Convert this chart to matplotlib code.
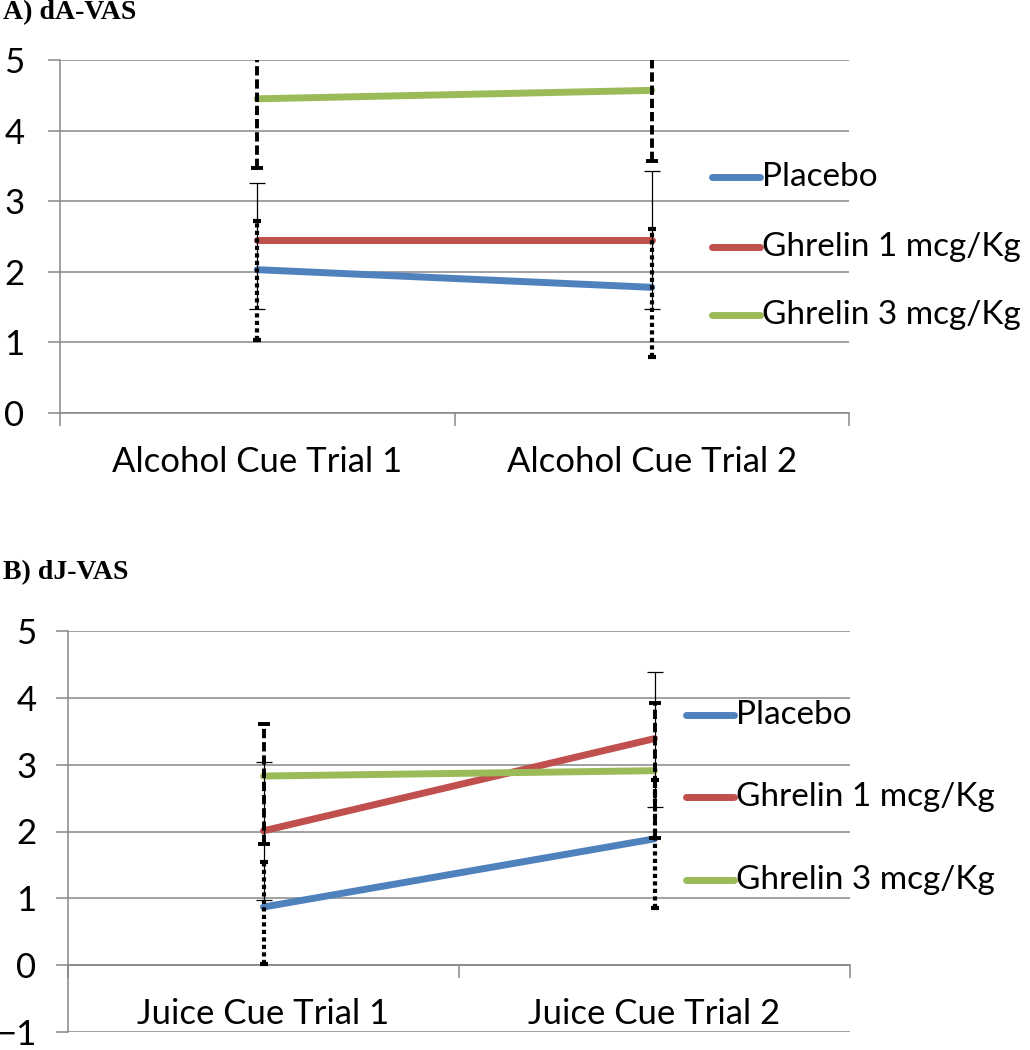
import matplotlib
matplotlib.use("Agg")
import matplotlib.pyplot as plt
from matplotlib.lines import Line2D

# series names and colours (Excel 2007 palette)
conditions = ["Placebo", "Ghrelin 1 mcg/Kg", "Ghrelin 3 mcg/Kg"]
colors = ["#4F81BD", "#C0504D", "#9BBB59"]

# A) dA-VAS
a_cats = ["Alcohol Cue Trial 1", "Alcohol Cue Trial 2"]
a_placebo = [2.03, 1.78]
a_ghr1 = [2.45, 2.45]
a_ghr3 = [4.45, 4.57]
a_placebo_lo = [1.00, 0.98]
a_placebo_hi = [0.69, 0.83]
a_ghr1_lo = [0.97, 0.98]
a_ghr1_hi = [0.81, 0.98]
a_ghr3_lo = [0.98, 1.00]
a_ghr3_hi = [1.00, 1.00]

# B) dJ-VAS
b_cats = ["Juice Cue Trial 1", "Juice Cue Trial 2"]
b_placebo = [0.87, 1.89]
b_ghr1 = [2.01, 3.39]
b_ghr3 = [2.83, 2.91]
b_placebo_lo = [0.86, 1.04]
b_placebo_hi = [0.68, 0.88]
b_ghr1_lo = [1.03, 1.03]
b_ghr1_hi = [1.03, 1.00]
b_ghr3_lo = [1.02, 1.01]
b_ghr3_hi = [0.78, 1.01]

W, H = 1030, 1050
GRAY = "#878787"
FONT = "Lato"
FS = 25
LEG_FS = 24

fig = plt.figure(figsize=(W / 100, H / 100), dpi=100)


def px_axes(l, t, r, b):
    return fig.add_axes([l / W, 1 - b / H, (r - l) / W, (b - t) / H])


# error bar style per series: (linestyle, linewidth, capsize, capthick)
err_styles = [
    ((0, (1, 0.8)), 3.0, 3, 3.0),
    ("solid", 0.9, 6, 0.9),
    ((0, (2.4, 1.0)), 2.8, 4, 2.8),
]


def draw_panel(ax, cats, series, errs, ylim, leg_ys, leg_x0, ypad):
    x = list(range(len(cats)))
    ax.set_xlim(-0.5, len(cats) - 0.5)
    ax.set_ylim(*ylim)
    ax.set_yticks(range(ylim[0], ylim[1] + 1))
    ax.grid(axis="y", color=GRAY, lw=1.1)
    ax.set_axisbelow(True)
    for s in ["top", "right"]:
        ax.spines[s].set_visible(False)
    ax.spines["left"].set_color(GRAY)
    ax.spines["left"].set_linewidth(1.1)
    ax.spines["bottom"].set_color(GRAY)
    ax.spines["bottom"].set_linewidth(1.1)
    ax.spines["bottom"].set_position(("data", 0))

    ax.set_xticks(x)
    ax.set_xticklabels(cats)
    ax.set_xticks([i - 0.5 for i in range(len(cats) + 1)], minor=True)
    ax.tick_params(axis="x", which="major", length=0, pad=24)
    ax.tick_params(axis="x", which="minor", length=9.5, width=1.1, color=GRAY)
    ax.tick_params(axis="y", length=8.6, width=1.1, color=GRAY, pad=ypad)
    for lab in ax.get_xticklabels() + ax.get_yticklabels():
        lab.set_fontfamily(FONT)
        lab.set_fontsize(FS)

    for vals, (lo, hi), c, st in zip(series, errs, colors, err_styles):
        ax.plot(x, vals, color=c, lw=5, solid_capstyle="round", zorder=3)
        eb = ax.errorbar(x, vals, yerr=[lo, hi], fmt="none", ecolor="black",
                         elinewidth=st[1], capsize=st[2], capthick=st[3], zorder=4)
        eb[2][0].set_linestyle(st[0])

    # legend on the right of the plot
    for y, name, c in zip(leg_ys, conditions, colors):
        fig.add_artist(Line2D([leg_x0 / W, (leg_x0 + 48) / W], [1 - y / H] * 2,
                              color=c, lw=5, solid_capstyle="round"))
        fig.text((leg_x0 + 50) / W, 1 - y / H, name, ha="left", va="center",
                 fontsize=LEG_FS, family=FONT)


axA = px_axes(60, 60, 849, 413)
draw_panel(axA, a_cats, [a_placebo, a_ghr1, a_ghr3],
           [(a_placebo_lo, a_placebo_hi), (a_ghr1_lo, a_ghr1_hi), (a_ghr3_lo, a_ghr3_hi)],
           (0, 5), [177, 247, 315], 712, 17)

axB = px_axes(68, 631, 850, 1032)
draw_panel(axB, b_cats, [b_placebo, b_ghr1, b_ghr3],
           [(b_placebo_lo, b_placebo_hi), (b_ghr1_lo, b_ghr1_hi), (b_ghr3_lo, b_ghr3_hi)],
           (-1, 5), [715, 797, 880], 686, 14)

fig.text(3 / W, 1 - 13 / H, "A) dA-VAS", ha="left", va="center", fontsize=20,
         fontweight="bold", family="Liberation Serif")
fig.text(3 / W, 1 - 573 / H, "B) dJ-VAS", ha="left", va="center", fontsize=20,
         fontweight="bold", family="Liberation Serif")

fig.savefig("out.png", dpi=100)
